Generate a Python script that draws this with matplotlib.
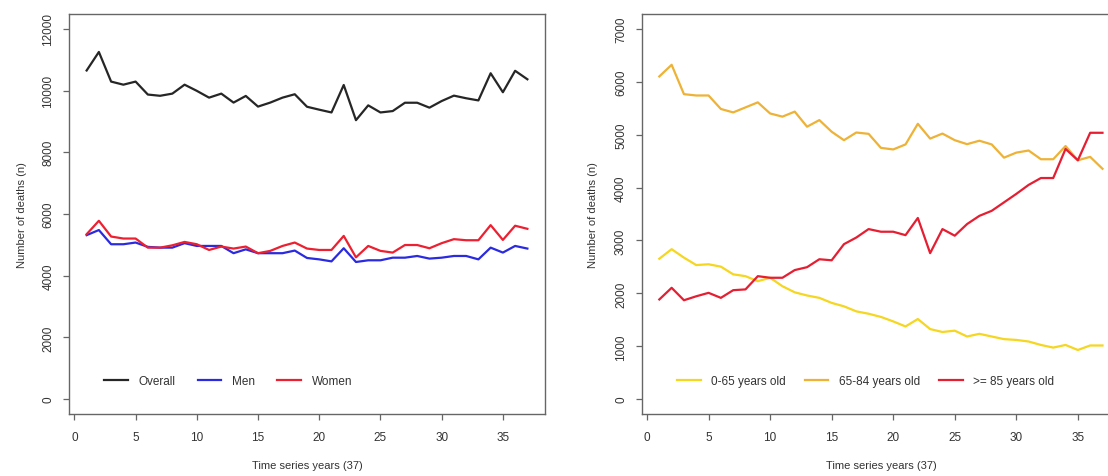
import matplotlib
matplotlib.use("Agg")
import matplotlib.pyplot as plt

plt.rcParams["font.family"] = ["Liberation Sans", "DejaVu Sans"]

# time series years 1..37
years = list(range(1, 38))

overall = [10650, 11250, 10290, 10190, 10290, 9870, 9830, 9900, 10190, 9990,
           9770, 9900, 9610, 9825, 9480, 9610, 9770, 9880, 9475, 9380,
           9290, 10180, 9040, 9520, 9290, 9335, 9605, 9605, 9445, 9660,
           9835, 9750, 9680, 10560, 9945, 10640, 10365]
men = [5315, 5480, 5020, 5020, 5075, 4935, 4910, 4910, 5055, 4965,
       4965, 4965, 4730, 4855, 4730, 4730, 4730, 4815, 4575, 4530,
       4465, 4890, 4445, 4500, 4500, 4585, 4585, 4640, 4555, 4585,
       4640, 4640, 4530, 4910, 4750, 4965, 4880]
women = [5345, 5780, 5270, 5205, 5205, 4910, 4910, 4985, 5095, 5020,
         4835, 4945, 4880, 4945, 4730, 4805, 4965, 5075, 4880, 4835,
         4835, 5290, 4595, 4965, 4805, 4750, 4995, 4995, 4890, 5055,
         5185, 5150, 5150, 5640, 5160, 5620, 5520]

age_0_65 = [2655, 2835, 2675, 2535, 2550, 2505, 2360, 2325, 2230, 2295,
            2135, 2020, 1960, 1915, 1820, 1755, 1660, 1615, 1555, 1470,
            1375, 1515, 1325, 1270, 1295, 1185, 1235, 1185, 1135, 1120,
            1090, 1025, 975, 1025, 930, 1015, 1015]
age_65_84 = [6100, 6320, 5765, 5740, 5740, 5485, 5420, 5515, 5610, 5400,
             5340, 5435, 5150, 5275, 5055, 4895, 5040, 5015, 4750, 4720,
             4815, 5205, 4925, 5020, 4895, 4820, 4885, 4815, 4565, 4660,
             4700, 4535, 4535, 4785, 4515, 4580, 4355]
age_85_plus = [1885, 2105, 1870, 1945, 2010, 1915, 2060, 2075, 2325, 2295,
               2295, 2440, 2495, 2645, 2625, 2930, 3055, 3215, 3165, 3165,
               3100, 3425, 2760, 3215, 3090, 3310, 3465, 3560, 3720, 3880,
               4050, 4180, 4180, 4730, 4515, 5035, 5035]

grey = "#666666"
text_col = "#333333"

fig = plt.figure(figsize=(11.08, 4.77), dpi=100)
ax1 = fig.add_axes([69 / 1108, 62 / 477, 476 / 1108, 400 / 477])
ax2 = fig.add_axes([641.6 / 1108, 62 / 477, 478.6 / 1108, 400 / 477])


def style_axis(ax, ymax, ystep):
    ax.set_xlim(-0.44, 38.44)
    ax.set_ylim(-0.04 * ymax, 1.04 * ymax)
    ax.set_xticks(range(0, 40, 5))
    ax.set_yticks(range(0, ymax + 1, ystep))
    ax.set_yticklabels([str(v) for v in range(0, ymax + 1, ystep)],
                       rotation=90, va="center")
    for sp in ax.spines.values():
        sp.set_color(grey)
        sp.set_linewidth(1.0)
    ax.tick_params(direction="out", length=4.5, width=0.9, color=grey,
                   labelcolor=text_col, labelsize=8.5, pad=6)
    ax.tick_params(axis="x", pad=8)
    ax.set_xlabel("Time series years (37)", fontsize=8, color=text_col)
    ax.set_ylabel("Number of deaths (n)", fontsize=8, color=text_col)
    ax.xaxis.set_label_coords(0.5, -0.115)
    ax.yaxis.set_label_coords(-0.088, 0.5)


# left: overall and by sex
ax1.plot(years, overall, color="#262626", lw=1.6, label="Overall")
ax1.plot(years, men, color="#2a2ae0", lw=1.6, label="Men")
ax1.plot(years, women, color="#ec2030", lw=1.6, label="Women")
style_axis(ax1, 12000, 2000)
ax1.legend(loc="center left", bbox_to_anchor=(0.0735, 0.0825), ncol=3,
           frameon=False, fontsize=8.5, handlelength=2.0, handletextpad=0.9,
           columnspacing=1.9, borderpad=0, borderaxespad=0,
           labelcolor=text_col)

# right: by age group
ax2.plot(years, age_0_65, color="#f5d620", lw=1.6, label="0-65 years old")
ax2.plot(years, age_65_84, color="#edb236", lw=1.6, label="65-84 years old")
ax2.plot(years, age_85_plus, color="#e61e32", lw=1.6, label=">= 85 years old")
style_axis(ax2, 7000, 1000)
ax2.yaxis.set_label_coords(-0.092, 0.5)
ax2.legend(loc="center left", bbox_to_anchor=(0.074, 0.0825), ncol=3,
           frameon=False, fontsize=8.5, handlelength=2.0, handletextpad=0.9,
           columnspacing=1.6, borderpad=0, borderaxespad=0,
           labelcolor=text_col)

fig.savefig("out.png", dpi=100)
